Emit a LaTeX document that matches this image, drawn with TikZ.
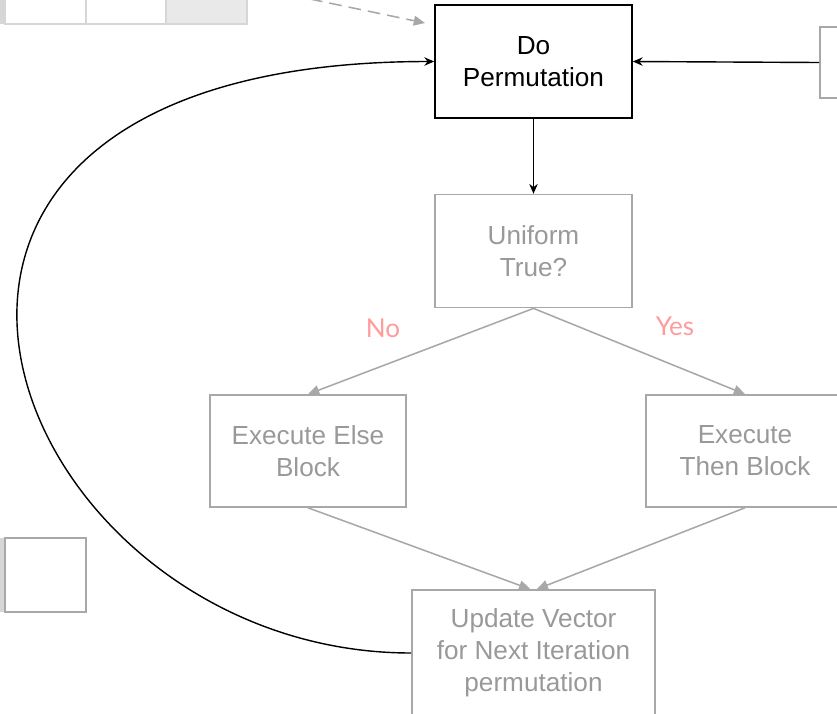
\documentclass[tikz,border=0pt]{standalone}
\usepackage{fontspec}
\setmainfont{Liberation Sans}
\newfontfamily\latofont{Lato}
\usetikzlibrary{positioning}
\usetikzlibrary{arrows.meta}

\definecolor{boxgrey}{HTML}{A8A8A8}
\definecolor{txtgrey}{HTML}{999999}
\definecolor{cellgrey}{HTML}{D6D6D6}
\definecolor{cellfill}{HTML}{E9E9E9}
\definecolor{labelpink}{HTML}{FF9B9B}

\tikzset{
  blkbox/.style={draw=black, line width=1.1pt, minimum width=4.925cm, minimum height=2.825cm,
    align=center, font=\fontsize{18.6}{22.7}\selectfont},
  grybox/.style={blkbox, draw=boxgrey, text=txtgrey},
  blkarrow/.style={-{Stealth[length=7pt, width=6pt]}, line width=1pt},
  gryarrow/.style={-{Triangle[length=8pt, width=7pt]}, draw=boxgrey, line width=1.1pt},
  lbl/.style={text=labelpink, font=\latofont\fontsize{18.5}{22}\selectfont}
}

\begin{document}
\begin{tikzpicture}[x=0.025cm, y=-0.025cm]
    \clip (0,0) rectangle (837,713);

    % cut-off table, top left
    \fill[cellgrey] (0,-10) rectangle (5,24);
    \draw[cellgrey, line width=1pt] (5,-10) rectangle (86,24);
    \draw[cellgrey, line width=1pt] (86,-10) rectangle (166,24);
    \draw[cellgrey, line width=1pt, fill=cellfill] (166,-10) rectangle (247,24);

    \node[blkbox] (perm) at (533.5,61.5) {Do\\Permutation};
    \node[grybox, below=1.875cm of perm] (uni) {Uniform\\True?};
    \node[grybox, minimum width=4.9cm, minimum height=2.8cm] (else) at (308,451) {Execute Else\\Block};
    \node[grybox, minimum width=4.95cm, minimum height=2.8cm] (then) at (745,451) {Execute\\Then Block};
    \node[grybox, minimum width=6.075cm, minimum height=3.15cm] (upd) at (533.5,653) {Update Vector\\for Next Iteration\\permutation};

    \node[draw=boxgrey, line width=1.3pt, minimum width=2cm, minimum height=1.775cm] (rb) at (860,62.5) {};
    \fill[cellgrey] (0,538) rectangle (5,612);
    \node[draw=boxgrey, line width=1.1pt, minimum width=2.025cm, minimum height=1.85cm] (lb) at (45.5,575) {};

    \node[lbl] (no) at (383,328) {No};
    \node[lbl] (yes) at (675,326) {Yes};

    \coordinate (dfrom) at (310,-1);
    \coordinate (dto) at (425,23);

    \draw[gryarrow, dashed, dash pattern=on 9pt off 5pt] (dfrom) -- (dto);
    \draw[blkarrow] (rb.west) -- (perm.east);
    \draw[blkarrow, line width=1.3pt] (perm.south) -- (uni.north);
    \draw[gryarrow] (uni.south) -- (else.north);
    \draw[gryarrow] (uni.south) -- (then.north);
    \draw[gryarrow] (else.south) -- ([xshift=-0.08cm]upd.north);
    \draw[gryarrow] (then.south) -- ([xshift=0.08cm]upd.north);
    \draw[blkarrow] (upd.west) .. controls +(-410,0) and +(-660,0) .. (perm.west);
\end{tikzpicture}
\end{document}
